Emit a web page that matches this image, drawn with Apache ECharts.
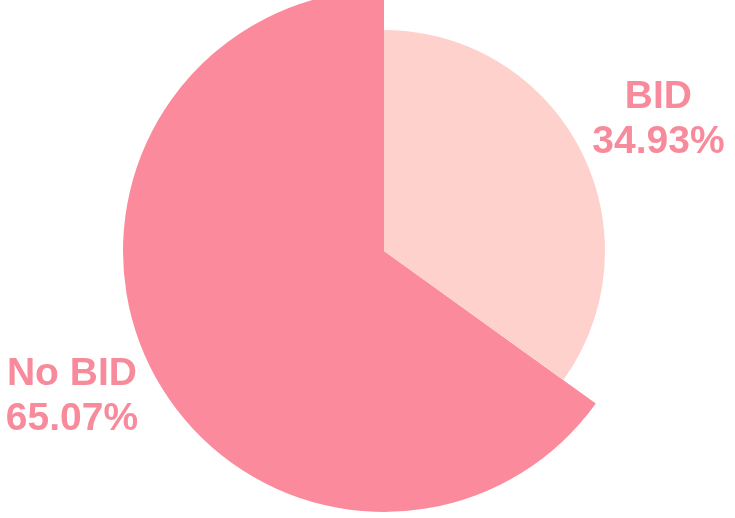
<!DOCTYPE html>
<html>
<head>
<meta charset="utf-8">
<script src="https://cdn.jsdelivr.net/npm/echarts@6/dist/echarts.min.js"></script>
<style>
html,body{margin:0;padding:0;background:#fff;}
#chart{width:735px;height:518px;}
</style>
</head>
<body>
<div id="chart"></div>
<script>
const categories = ['BID', 'No BID'];
const values = [34.93, 65.07];
const sliceColors = ['#fed1cd', '#fb8b9c'];
const labelColor = '#f78b9b';

const CENTER = [384, 251];
const RADII = [261, 221];   // series 0 draws No BID, series 1 draws BID
const LABEL_GAP = 84;
const LABEL_NUDGE = [[-5, -12], [3, 8]];

const chart = echarts.init(document.getElementById('chart'));

function makeData(showIndex) {
  return categories.map((name, i) => {
    const shown = i === showIndex;
    return {
      name: name,
      value: values[i],
      itemStyle: { color: shown ? sliceColors[i] : 'rgba(0,0,0,0)' },
      label: { show: shown }
    };
  });
}

const total = values.reduce((a, b) => a + b, 0);
function midAngle(i) {
  let cum = 0;
  for (let k = 0; k < i; k++) cum += values[k];
  return 2 * Math.PI * (cum + values[i] / 2) / total;
}

function layoutFor(seriesIdx) {
  return function (params) {
    const th = midAngle(params.dataIndex);
    const d = RADII[seriesIdx] + LABEL_GAP;
    return {
      x: CENTER[0] + Math.sin(th) * d + LABEL_NUDGE[seriesIdx][0],
      y: CENTER[1] - Math.cos(th) * d + LABEL_NUDGE[seriesIdx][1],
      align: 'center',
      verticalAlign: 'middle'
    };
  };
}

const labelStyle = {
  show: true,
  position: 'outside',
  formatter: '{b}\n{d}%',
  fontSize: 39,
  fontWeight: 'bold',
  fontFamily: 'Liberation Sans',
  color: labelColor,
  lineHeight: 45,
  overflow: 'none'
};

chart.setOption({
  animation: false,
  series: [
    {
      type: 'pie',
      center: CENTER,
      radius: RADII[0],
      startAngle: 90,
      clockwise: true,
      emphasis: { disabled: true },
      label: labelStyle,
      labelLine: { show: false },
      labelLayout: layoutFor(0),
      data: makeData(1)
    },
    {
      type: 'pie',
      center: CENTER,
      radius: RADII[1],
      startAngle: 90,
      clockwise: true,
      emphasis: { disabled: true },
      label: labelStyle,
      labelLine: { show: false },
      labelLayout: layoutFor(1),
      data: makeData(0)
    }
  ]
});
</script>
</body>
</html>
